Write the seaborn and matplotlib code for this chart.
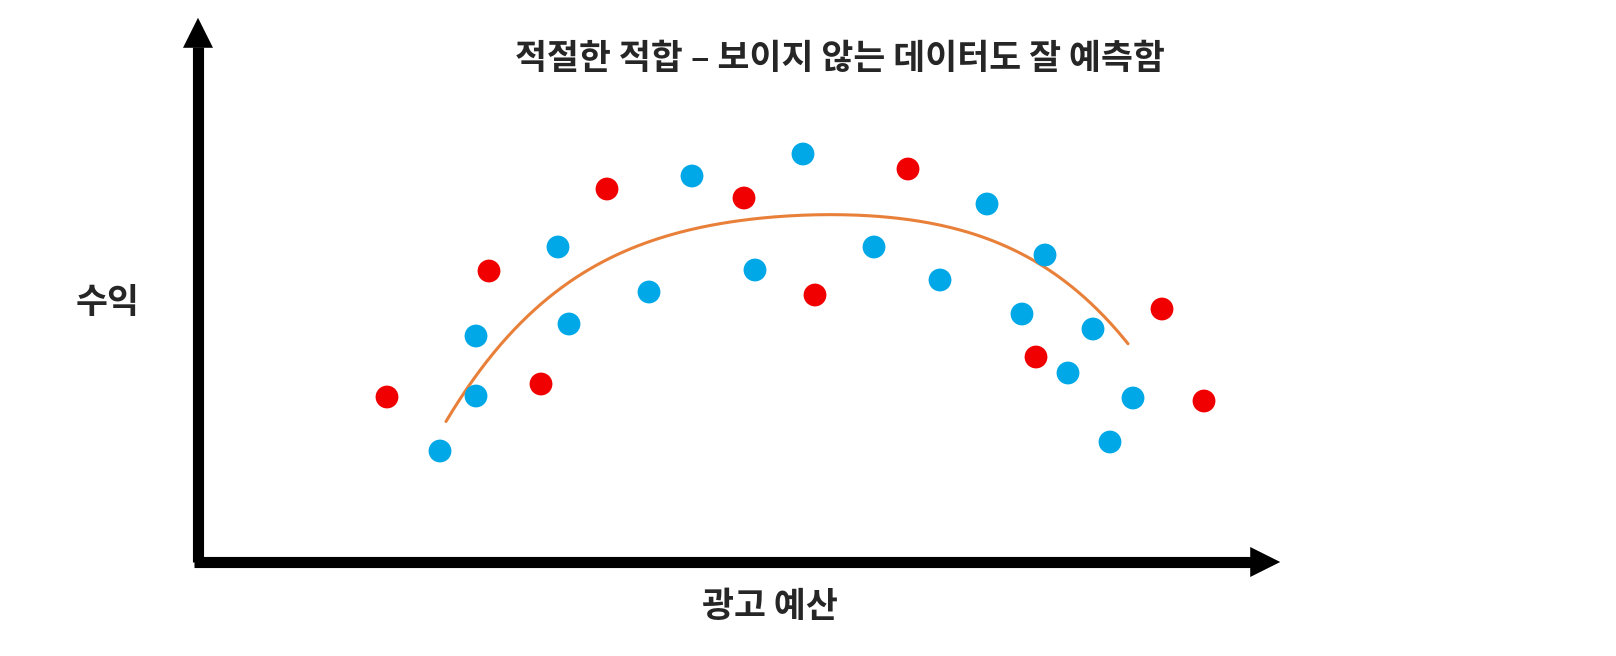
import matplotlib
matplotlib.use("Agg")
import matplotlib.pyplot as plt
import seaborn as sns
import numpy as np

sns.set_theme(style="white")
plt.rcParams['font.family'] = ['Noto Sans CJK KR', 'DejaVu Sans']

# data (budget, profit)
blue_x = [24.2, 27.8, 27.8, 36.0, 37.1, 45.1, 49.4, 55.7, 60.5, 67.6, 74.2, 78.9, 84.7, 82.4, 87.0, 89.5, 91.2, 93.5]
blue_y = [11.1, 16.6, 22.6, 31.5, 23.8, 27.0, 38.6, 29.2, 40.8, 31.5, 28.2, 35.8, 30.7, 24.8, 18.9, 23.3, 12.0, 16.4]
red_x = [18.9, 29.1, 34.3, 40.9, 54.6, 61.7, 71.0, 83.8, 96.4, 100.6]
red_y = [16.5, 29.1, 17.8, 37.3, 36.4, 26.7, 39.3, 20.5, 25.3, 16.1]
fit_x = [24.8, 30.2, 36.2, 44.2, 53.2, 62.8, 72.2, 80.2, 86.2, 90.2, 93.0]
fit_y = [13.8, 22.2, 27.2, 31.4, 34.0, 34.9, 34.2, 31.7, 28.2, 25.2, 21.8]

fig = plt.figure(figsize=(16.16, 6.56), dpi=100)
ax = fig.add_axes([0, 0, 1, 1])
ax.set_xlim(-19.8, 141.8)
ax.set_ylim(-9.4, 56.2)
ax.axis('off')

coef = np.polyfit(fit_x, fit_y, 4)
xs = np.linspace(min(fit_x), max(fit_x), 200)
sns.lineplot(x=xs, y=np.polyval(coef, xs), ax=ax, color='#E8803A', lw=2.2, sort=False)
sns.scatterplot(x=blue_x, y=blue_y, ax=ax, color='#00A8E8', s=270, edgecolor='none', zorder=3)
sns.scatterplot(x=red_x, y=red_y, ax=ax, color='#F00000', s=270, edgecolor='none', zorder=3)

# axes arrows
ax.plot([0, 0], [0, 51.5], color='black', lw=8, solid_capstyle='butt')
ax.plot([-0.4, 105.5], [0, 0], color='black', lw=8, solid_capstyle='butt')
ax.annotate('', xy=(0, 54.7), xytext=(0, 50.5),
            arrowprops=dict(arrowstyle='-|>,head_length=1.8,head_width=0.9', color='black', lw=0))
ax.annotate('', xy=(108.5, 0), xytext=(104.5, 0),
            arrowprops=dict(arrowstyle='-|>,head_length=1.8,head_width=0.9', color='black', lw=0))

ax.text(64.2, 50.4, '적절한 적합 – 보이지 않는 데이터도 잘 예측함', ha='center', va='center',
        fontsize=25, fontweight='bold')
ax.text(-9.0, 26.0, '수익', ha='center', va='center', fontsize=25, fontweight='bold')
ax.text(57.2, -4.5, '광고 예산', ha='center', va='center', fontsize=25, fontweight='bold')

fig.savefig('out.png', dpi=100)
